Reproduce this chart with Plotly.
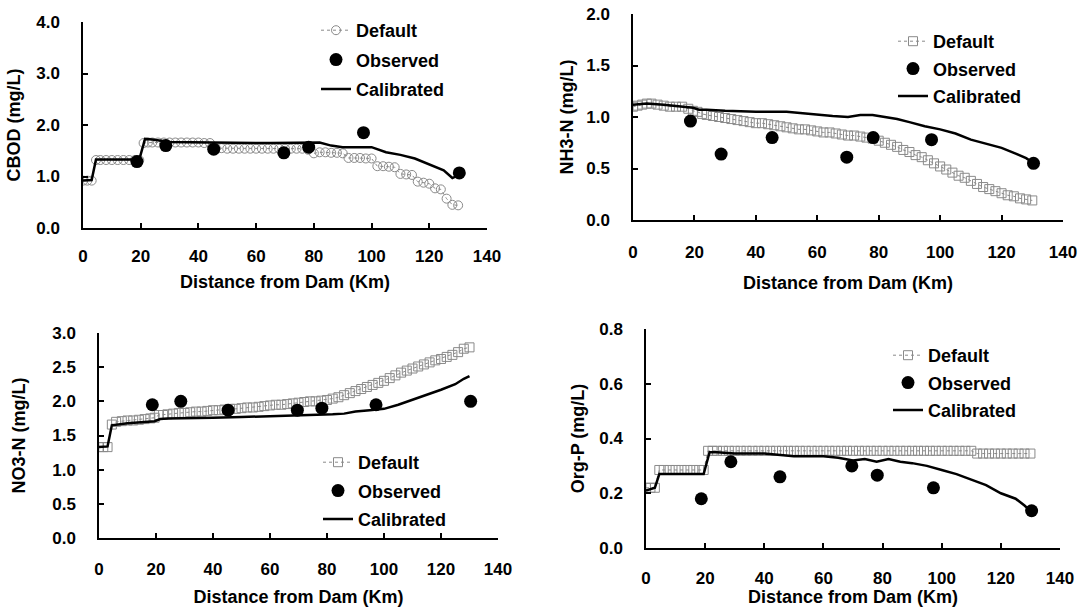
import plotly.graph_objects as go

# ---------------- data ----------------
DIST = [0, 1.5, 3, 4.5, 6, 8, 10, 12, 14, 16, 18, 19.5, 21, 22.5, 24,
        26, 28, 30, 32, 34, 36, 38, 40, 42, 44, 46, 48, 50, 52, 54, 56, 58, 60,
        62, 64, 66, 68, 70, 72, 74, 76, 78, 80, 82, 84, 86, 88, 90, 92, 94, 96,
        98, 100, 102, 104, 106, 108, 110, 112, 114, 116, 118, 120, 122, 124,
        126, 128, 130]

CAL_KM = [0, 3, 4.5, 10, 19.5, 21.5, 24, 30, 40, 50, 60, 65, 70, 74, 78, 82,
          86, 90, 95, 100, 105, 110, 115, 120, 125, 128, 130]

OBS_KM = [18.7, 28.7, 45.3, 69.6, 78.2, 97.2, 130.4]

# CBOD (mg/L)
cbod_default = [0.92, 0.92, 0.92, 1.32, 1.32, 1.32, 1.32, 1.32, 1.32, 1.32, 1.32, 1.32, 1.65, 1.66, 1.66,
                1.66, 1.66, 1.66, 1.66, 1.66, 1.66, 1.66, 1.66, 1.65, 1.65, 1.55, 1.55, 1.54, 1.54, 1.54, 1.54, 1.54, 1.54,
                1.54, 1.54, 1.54, 1.54, 1.54, 1.54, 1.54, 1.54, 1.52, 1.45, 1.47, 1.47, 1.46, 1.46, 1.45, 1.36, 1.36, 1.36,
                1.35, 1.35, 1.20, 1.20, 1.19, 1.18, 1.05, 1.04, 1.03, 0.90, 0.88, 0.86, 0.77, 0.75,
                0.57, 0.45, 0.44]
cbod_calibrated = [0.92, 0.93, 1.33, 1.33, 1.33, 1.73, 1.72, 1.67, 1.66, 1.65, 1.65, 1.65, 1.65, 1.65, 1.66, 1.66,
                   1.60, 1.57, 1.57, 1.57, 1.47, 1.42, 1.35, 1.24, 1.12, 0.97, 1.02]
cbod_observed = [1.29, 1.60, 1.53, 1.46, 1.57, 1.85, 1.07]

# NH3-N (mg/L)
nh3_default = [1.10, 1.11, 1.12, 1.13, 1.13, 1.12, 1.11, 1.10, 1.10, 1.10, 1.08, 1.06, 1.05, 1.03, 1.02,
               1.01, 1.00, 0.99, 0.98, 0.97, 0.96, 0.95, 0.94, 0.94, 0.93, 0.92, 0.91, 0.90, 0.89, 0.88, 0.88, 0.87, 0.86,
               0.85, 0.85, 0.84, 0.83, 0.82, 0.82, 0.81, 0.80, 0.79, 0.77, 0.75, 0.73, 0.71, 0.68, 0.66, 0.63, 0.61, 0.58,
               0.55, 0.52, 0.49, 0.46, 0.43, 0.41, 0.38, 0.35, 0.32, 0.30, 0.28, 0.26, 0.24, 0.23,
               0.21, 0.20, 0.19]
nh3_calibrated = [1.12, 1.13, 1.13, 1.12, 1.09, 1.07, 1.07, 1.06, 1.05, 1.05, 1.02, 1.01, 1.00, 1.02, 1.02, 1.00,
                  0.98, 0.95, 0.91, 0.88, 0.84, 0.78, 0.74, 0.70, 0.64, 0.60, 0.56]
nh3_observed = [0.96, 0.64, 0.80, 0.61, 0.80, 0.78, 0.55]

# NO3-N (mg/L)
no3_default = [1.33, 1.33, 1.33, 1.66, 1.70, 1.71, 1.72, 1.72, 1.73, 1.74, 1.75, 1.76, 1.80, 1.80, 1.81,
               1.82, 1.83, 1.83, 1.84, 1.85, 1.85, 1.86, 1.87, 1.87, 1.88, 1.89, 1.89, 1.90, 1.91, 1.91, 1.92, 1.93, 1.94,
               1.95, 1.95, 1.96, 1.97, 1.98, 1.99, 2.00, 2.00, 2.01, 2.02, 2.04, 2.06, 2.09, 2.12, 2.15, 2.18, 2.21, 2.24,
               2.27, 2.30, 2.34, 2.38, 2.42, 2.45, 2.48, 2.51, 2.54, 2.57, 2.60, 2.62, 2.65, 2.68,
               2.72, 2.77, 2.79]
no3_calibrated = [1.33, 1.34, 1.65, 1.68, 1.71, 1.74, 1.75, 1.75, 1.76, 1.77, 1.78, 1.79, 1.80, 1.80, 1.80, 1.81,
                  1.82, 1.85, 1.87, 1.89, 1.95, 2.02, 2.09, 2.17, 2.25, 2.33, 2.37]
no3_observed = [1.95, 2.00, 1.87, 1.87, 1.90, 1.95, 2.00]

# Org-P (mg/L)
orgp_default = [0.22, 0.22, 0.22, 0.285, 0.285, 0.285, 0.285, 0.285, 0.285, 0.285, 0.285, 0.285, 0.355, 0.355, 0.355,
                0.355, 0.355, 0.355, 0.355, 0.355, 0.355, 0.355, 0.355, 0.355, 0.355, 0.355, 0.355, 0.355, 0.355, 0.355, 0.355, 0.355, 0.355,
                0.355, 0.355, 0.355, 0.355, 0.355, 0.355, 0.355, 0.355, 0.355, 0.355, 0.355, 0.355, 0.355, 0.355, 0.355, 0.355, 0.355, 0.355,
                0.355, 0.355, 0.355, 0.355, 0.355, 0.355, 0.355, 0.345, 0.345, 0.345, 0.345, 0.345, 0.345, 0.345,
                0.345, 0.345, 0.345]
orgp_calibrated = [0.21, 0.22, 0.27, 0.27, 0.27, 0.35, 0.35, 0.345, 0.345, 0.335, 0.335, 0.33, 0.32, 0.325, 0.315, 0.325,
                   0.315, 0.31, 0.30, 0.285, 0.27, 0.25, 0.23, 0.20, 0.18, 0.155, 0.135]
orgp_observed = [0.18, 0.315, 0.26, 0.30, 0.266, 0.22, 0.136]

X_TICKS = [0, 20, 40, 60, 80, 100, 120, 140]
X_TITLE = "Distance from Dam (Km)"
SERIES_NAMES = ["Default", "Observed", "Calibrated"]

panels = [
    dict(title="CBOD (mg/L)", default=cbod_default, cal=cbod_calibrated, obs=cbod_observed,
         yrange=[0, 4], dtick=1.0, dsym="circle-open"),
    dict(title="NH3-N (mg/L)", default=nh3_default, cal=nh3_calibrated, obs=nh3_observed,
         yrange=[0, 2], dtick=0.5, dsym="square-open"),
    dict(title="NO3-N (mg/L)", default=no3_default, cal=no3_calibrated, obs=no3_observed,
         yrange=[0, 3], dtick=0.5, dsym="square-open"),
    dict(title="Org-P (mg/L)", default=orgp_default, cal=orgp_calibrated, obs=orgp_observed,
         yrange=[0, 0.8], dtick=0.2, dsym="square-open"),
]

# ---------------- layout geometry (pixels) ----------------
W, H = 1082, 607
# (left, right, top, bottom) in px for each plot area
boxes = [(83, 487, 22, 228), (633, 1063, 14, 220), (99, 498, 333, 538), (646, 1060, 329, 548)]
legend_pos = [(316, 12), (893, 23), (318, 444), (888, 337)]
legend_gap = [3, 1, 2, 1]
x_label_standoff = [12, 16, 15, 14]
x_title_standoff = [10, 15, 14, 6]
y_title_standoff = [11, 8, 22, 10]

FONT = "Liberation Sans, Arial, sans-serif"
DEF_COLOR = "#8a8a8a"

fig = go.Figure()
layout = dict(width=W, height=H, margin=dict(l=0, r=0, t=0, b=0),
              paper_bgcolor="white", plot_bgcolor="white", showlegend=True,
              font=dict(family=FONT, size=17, color="black", weight="bold"))

for i, p in enumerate(panels):
    n = i + 1
    xa = "x" if n == 1 else f"x{n}"
    ya = "y" if n == 1 else f"y{n}"
    lg = "legend" if n == 1 else f"legend{n}"
    fig.add_trace(go.Scatter(
        x=DIST, y=p["default"], mode="lines+markers", name=SERIES_NAMES[0],
        xaxis=xa, yaxis=ya, legend=lg, legendgroup=f"d{n}",
        line=dict(color=DEF_COLOR, width=1, dash="dot"),
        marker=dict(symbol=p["dsym"], size=9, color=DEF_COLOR, line=dict(width=1, color=DEF_COLOR))))
    fig.add_trace(go.Scatter(
        x=OBS_KM, y=p["obs"], mode="markers", name=SERIES_NAMES[1],
        xaxis=xa, yaxis=ya, legend=lg, legendgroup=f"o{n}",
        marker=dict(symbol="circle", size=13, color="black")))
    fig.add_trace(go.Scatter(
        x=CAL_KM, y=p["cal"], mode="lines", name=SERIES_NAMES[2],
        xaxis=xa, yaxis=ya, legend=lg, legendgroup=f"c{n}",
        line=dict(color="black", width=2.5)))

    l, r, t, b = boxes[i]
    xkey = "xaxis" if n == 1 else f"xaxis{n}"
    ykey = "yaxis" if n == 1 else f"yaxis{n}"
    layout[xkey] = dict(
        domain=[l / W, r / W], anchor=ya, range=[0, 140], tickvals=X_TICKS,
        showgrid=False, zeroline=False, showline=True, linecolor="black", linewidth=1.5,
        ticks="inside", ticklen=5, tickwidth=1.5, tickcolor="black",
        ticklabelstandoff=x_label_standoff[i], tickfont=dict(size=17, family=FONT, weight="bold"),
        title=dict(text=X_TITLE, standoff=x_title_standoff[i], font=dict(size=18, family=FONT, weight="bold")),
        automargin=False, fixedrange=True)
    layout[ykey] = dict(
        domain=[1 - b / H, 1 - t / H], anchor=xa, range=p["yrange"], dtick=p["dtick"], tick0=0,
        tickformat=".1f", showgrid=False, zeroline=False, showline=True, linecolor="black", linewidth=1.5,
        ticks="inside", ticklen=5, tickwidth=1.5, tickcolor="black",
        ticklabelstandoff=18, tickfont=dict(size=17, family=FONT, weight="bold"),
        title=dict(text=p["title"], standoff=y_title_standoff[i], font=dict(size=18, family=FONT, weight="bold")),
        automargin=False, fixedrange=True)
    lx, ly = legend_pos[i]
    layout[lg] = dict(x=lx / W, y=1 - ly / H, xanchor="left", yanchor="top",
                      bgcolor="rgba(0,0,0,0)", tracegroupgap=legend_gap[i], itemwidth=30,
                      font=dict(size=18, family=FONT, weight="bold", color="black"))

fig.update_layout(**layout)
fig.write_html("out.html",
               config={"displayModeBar": False},
               post_script="document.body.style.margin='0';document.body.style.overflow='hidden';")
